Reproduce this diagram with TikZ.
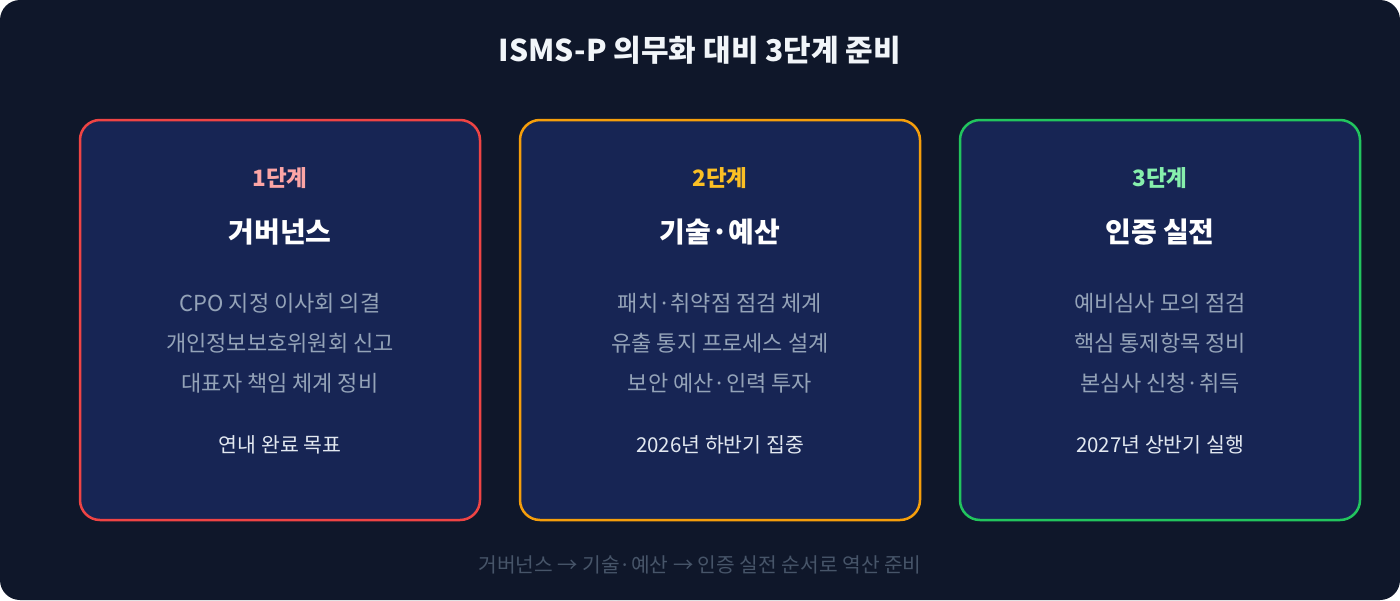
\documentclass[tikz,border=0pt]{standalone}
\usepackage{fontspec}
\setmainfont{Noto Sans CJK KR}
\definecolor{bgc}{HTML}{0F172A}
\definecolor{boxc}{HTML}{172554}
\definecolor{redc}{HTML}{EF4444}
\definecolor{ambc}{HTML}{F59E0B}
\definecolor{grnc}{HTML}{22C55E}
\definecolor{redl}{HTML}{FCA5A5}
\definecolor{ambl}{HTML}{FBBF24}
\definecolor{grnl}{HTML}{86EFAC}
\definecolor{titc}{HTML}{F1F5F9}
\definecolor{itemc}{HTML}{94A3B8}
\definecolor{tgtc}{HTML}{E2E8F0}
\definecolor{footc}{HTML}{475569}
\tikzset{
  stagebox/.style={draw, line width=2.5pt, fill=boxc, rounded corners=20pt},
  txt/.style={anchor=base, inner sep=0pt, outer sep=0pt},
  maintitle/.style={txt, font=\fontsize{30}{34}\selectfont\bfseries, text=titc},
  stagelbl/.style={txt, font=\fontsize{22.5}{26}\selectfont\bfseries},
  heading/.style={txt, font=\fontsize{28}{32}\selectfont\bfseries, text=white},
  item/.style={txt, font=\fontsize{22}{26}\selectfont, text=itemc},
  target/.style={txt, font=\fontsize{20.5}{24}\selectfont, text=tgtc},
  foot/.style={txt, font=\fontsize{20.3}{24}\selectfont, text=footc}
}
\begin{document}
\begin{tikzpicture}[x=1pt,y=-1pt]
\useasboundingbox (0,0) rectangle (1400,600);
\fill[white] (0,0) rectangle (1400,600);
\fill[bgc, rounded corners=20pt] (0,0) rectangle (1400,600);
\node[maintitle] (title) at (700,61) {ISMS-P 의무화 대비 3단계 준비};

\node[stagebox, draw=redc, minimum width=400pt, minimum height=400pt] (b1) at (280,320) {};
\node[stagebox, draw=ambc, minimum width=400pt, minimum height=400pt] (b2) at (720,320) {};
\node[stagebox, draw=grnc, minimum width=400pt, minimum height=400pt] (b3) at (1160,320) {};

\node[stagelbl, text=redl] (s1) at (280,186) {1단계};
\node[heading] (h1) at (280,242) {거버넌스};
\node[item] (i11) at (280,311) {CPO 지정 이사회 의결};
\node[item] (i12) at (280,351) {개인정보보호위원회 신고};
\node[item] (i13) at (280,391) {대표자 책임 체계 정비};
\node[target] (t1) at (280,452) {연내 완료 목표};

\node[stagelbl, text=ambl] (s2) at (720,186) {2단계};
\node[heading] (h2) at (720,242) {기술·예산};
\node[item] (i21) at (720,311) {패치·취약점 점검 체계};
\node[item] (i22) at (720,351) {유출 통지 프로세스 설계};
\node[item] (i23) at (720,391) {보안 예산·인력 투자};
\node[target] (t2) at (720,452) {2026년 하반기 집중};

\node[stagelbl, text=grnl] (s3) at (1160,186) {3단계};
\node[heading] (h3) at (1160,242) {인증 실전};
\node[item] (i31) at (1160,311) {예비심사 모의 점검};
\node[item] (i32) at (1160,351) {핵심 통제항목 정비};
\node[item] (i33) at (1160,391) {본심사 신청·취득};
\node[target] (t3) at (1160,452) {2027년 상반기 실행};

\node[foot] (ft) at (700,572) {거버넌스 → 기술·예산 → 인증 실전 순서로 역산 준비};
\end{tikzpicture}
\end{document}
